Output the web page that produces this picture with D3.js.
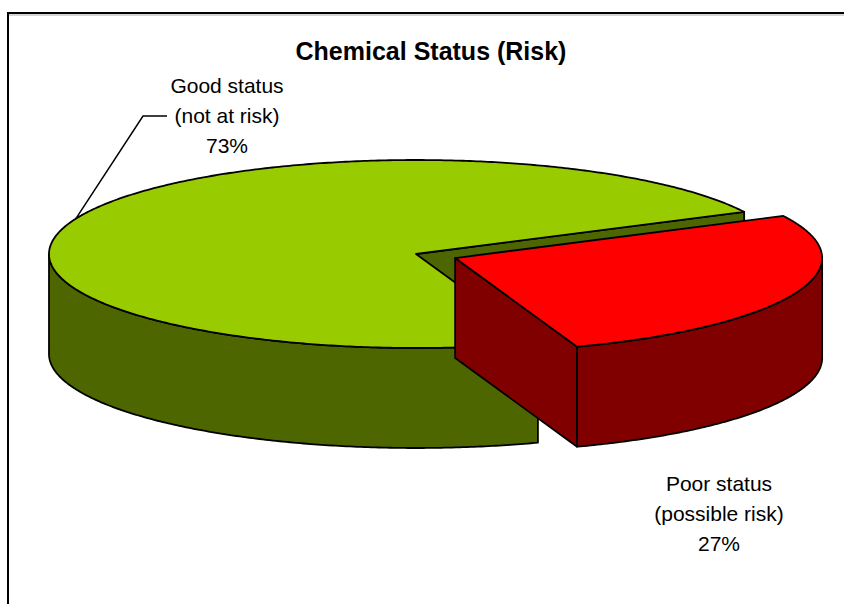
<!DOCTYPE html>
<html>
<head>
<meta charset="utf-8">
<script src="https://cdn.jsdelivr.net/npm/d3@7"></script>
<style>
  body { margin: 0; background: #fff; }
  svg { display: block; font-family: Arial, "Liberation Sans", sans-serif; }
</style>
</head>
<body>
<div id="chart"></div>
<script>
// chart data
const categories = ['Good status', 'Poor status'];
const subLabels = ['(not at risk)', '(possible risk)'];
const values = [73, 27];
const exploded = [0, 0.115]; // explode fraction of the radius per slice

const width = 844, height = 604;

// 3d pie geometry
const cx = 416, cy = 254, rx = 367, ry = 94, depth = 100;
const startDeg = 160.6; // first slice starts here (clockwise from 12 o'clock)

const topColor = d3.scaleOrdinal().domain(categories).range(['#99CC00', '#FF0000']);
const sideColor = d3.scaleOrdinal().domain(categories).range(['#4D6600', '#800000']);

// unit circle -> screen ellipse
const xScale = d3.scaleLinear().domain([-1, 1]).range([cx - rx, cx + rx]);
const yScale = d3.scaleLinear().domain([-1, 1]).range([cy - ry, cy + ry]);

const svg = d3.select('#chart')
  .append('svg')
  .attr('width', width)
  .attr('height', height);

// chart frame (runs past the right and bottom edge)
svg.append('line')
  .attr('x1', 9).attr('x2', width).attr('y1', 15).attr('y2', 15)
  .attr('stroke', '#aaa').attr('stroke-width', 1);
svg.append('rect')
  .attr('x', 8).attr('y', 13)
  .attr('width', width + 20).attr('height', height + 20)
  .attr('fill', 'none').attr('stroke', '#000').attr('stroke-width', 2);

// title
svg.append('text')
  .attr('x', 431).attr('y', 60)
  .attr('text-anchor', 'middle')
  .style('font-size', '25px').style('font-weight', 'bold')
  .text('Chemical Status (Risk)');

const pie = d3.pie()
  .sort(null)
  .value(d => d)
  .startAngle(startDeg * Math.PI / 180)
  .endAngle(startDeg * Math.PI / 180 + 2 * Math.PI);

const arcs = pie(values).map((a, i) => {
  const mid = (a.startAngle + a.endAngle) / 2;
  return {
    name: categories[i],
    index: i,
    a0: a.startAngle,
    a1: a.endAngle,
    mid: mid,
    off: [exploded[i] * Math.sin(mid), -exploded[i] * Math.cos(mid)]
  };
});

// point on the pie at angle a, radius r, lowered by z pixels
const P = (a, r, off, z) => [
  xScale(r * Math.sin(a) + off[0]),
  yScale(-r * Math.cos(a) + off[1]) + z
];

const arcPts = (a0, a1, off, z) => {
  const n = Math.max(2, Math.ceil(Math.abs(a1 - a0) / 0.01));
  return d3.range(n + 1).map(k => P(a0 + (a1 - a0) * k / n, 1, off, z));
};

const line = d3.line();
const closed = pts => line(pts) + 'Z';

// back slices first
const order = arcs.slice().sort((p, q) => -Math.cos(p.mid) - -Math.cos(q.mid));

order.forEach(s => {
  const g = svg.append('g').attr('class', 'slice');
  const faces = [];

  // radial cut faces that turn toward the viewer
  if (Math.sin(s.a0) < 0) {
    faces.push([P(s.a0, 0, s.off, 0), P(s.a0, 1, s.off, 0), P(s.a0, 1, s.off, depth), P(s.a0, 0, s.off, depth)]);
  }
  if (Math.sin(s.a1) > 0) {
    faces.push([P(s.a1, 0, s.off, 0), P(s.a1, 1, s.off, 0), P(s.a1, 1, s.off, depth), P(s.a1, 0, s.off, depth)]);
  }
  // front part of the outer wall
  for (let k = 0; k < 3; k++) {
    const lo = Math.max(s.a0, Math.PI / 2 + 2 * Math.PI * k);
    const hi = Math.min(s.a1, 3 * Math.PI / 2 + 2 * Math.PI * k);
    if (hi > lo) {
      faces.push(arcPts(lo, hi, s.off, 0).concat(arcPts(hi, lo, s.off, depth)));
    }
  }

  g.selectAll('path.side')
    .data(faces)
    .enter()
    .append('path')
    .attr('class', 'side')
    .attr('d', closed)
    .attr('fill', sideColor(s.name))
    .attr('stroke', '#000')
    .attr('stroke-width', 1.8)
    .attr('stroke-linejoin', 'round');

  g.append('path')
    .attr('class', 'top')
    .attr('d', closed([P(0, 0, s.off, 0)].concat(arcPts(s.a0, s.a1, s.off, 0))))
    .attr('fill', topColor(s.name))
    .attr('stroke', '#000')
    .attr('stroke-width', 1.8)
    .attr('stroke-linejoin', 'round');
});

// data labels
const labelPos = [[227, 93], [719, 491]];
const lineGap = 30;
const pct = d3.format('.0%');
const total = d3.sum(values);

arcs.forEach(s => {
  const [lx, ly] = labelPos[s.index];
  const t = svg.append('text')
    .attr('text-anchor', 'middle')
    .style('font-size', '21px')
    .attr('fill', '#000');
  [categories[s.index], subLabels[s.index], pct(values[s.index] / total)].forEach((txt, j) => {
    t.append('tspan').attr('x', lx).attr('y', ly + j * lineGap).text(txt);
  });
});

// leader line for the big slice label
const good = arcs[0];
const rim = P(good.mid, 1, good.off, 0);
svg.append('path')
  .attr('d', line([[labelPos[0][0] - 60, labelPos[0][1] + 23], [labelPos[0][0] - 84, labelPos[0][1] + 23], rim]))
  .attr('fill', 'none')
  .attr('stroke', '#000')
  .attr('stroke-width', 1.5);
</script>
</body>
</html>
